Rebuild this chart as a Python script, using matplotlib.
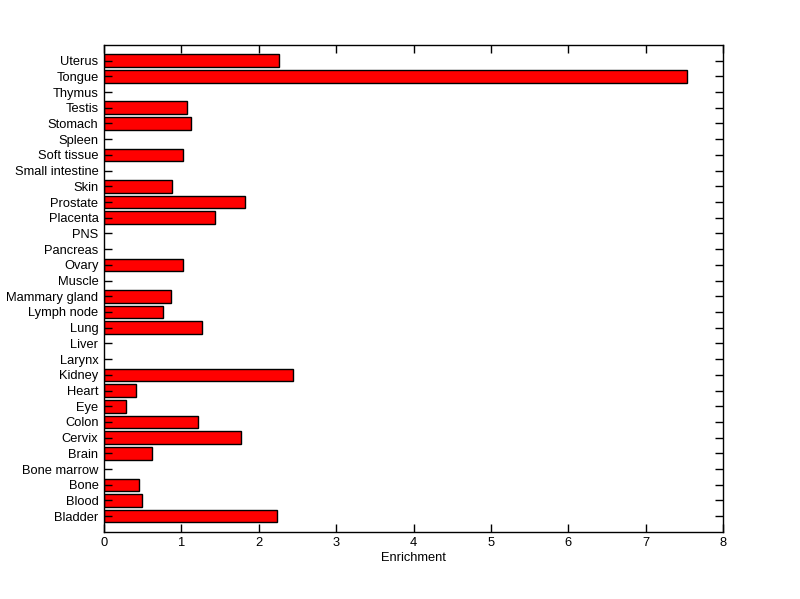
import matplotlib
matplotlib.use('Agg')
import matplotlib.pyplot as plt
import numpy as np

plt.rcParams['font.family'] = ['Liberation Sans', 'DejaVu Sans']
plt.rcParams['font.size'] = 9.3

# tecidos, de baixo para cima
tissues = ['Bladder', 'Blood', 'Bone', 'Bone marrow', 'Brain', 'Cervix', 'Colon',
           'Eye', 'Heart', 'Kidney', 'Larynx', 'Liver', 'Lung', 'Lymph node',
           'Mammary gland', 'Muscle', 'Ovary', 'Pancreas', 'PNS', 'Placenta',
           'Prostate', 'Skin', 'Small intestine', 'Soft tissue', 'Spleen',
           'Stomach', 'Testis', 'Thymus', 'Tongue', 'Uterus']
enrichment = [2.23, 0.49, 0.45, 0.0, 0.62, 1.77, 1.21,
              0.29, 0.41, 2.44, 0.0, 0.0, 1.26, 0.76,
              0.86, 0.0, 1.02, 0.0, 0.0, 1.43,
              1.82, 0.875, 0.0, 1.02, 0.0,
              1.12, 1.07, 0.0, 7.53, 2.265]
x_ticks = [0, 1, 2, 3, 4, 5, 6, 7, 8]

fig = plt.figure(figsize=(8.0, 5.99), dpi=100)
ax = fig.add_axes([0.13, 0.112, 0.774, 0.813])

pos = np.arange(1, len(tissues) + 1)
vals = np.array(enrichment)
nz = vals > 0
ax.barh(pos[nz], vals[nz], height=0.8, color='#ff0000', edgecolor='black', linewidth=1)

ax.set_xlim(0, 8)
ax.set_ylim(0, len(tissues) + 1)
ax.set_xticks(x_ticks)
ax.set_yticks(pos)
ax.set_yticklabels(tissues)
ax.set_xlabel('Enrichment', labelpad=2)

ax.tick_params(direction='in', length=6, width=1, top=True, right=True, pad=4)
for s in ax.spines.values():
    s.set_linewidth(1)

plt.savefig('out.png', dpi=100)
plt.close()
